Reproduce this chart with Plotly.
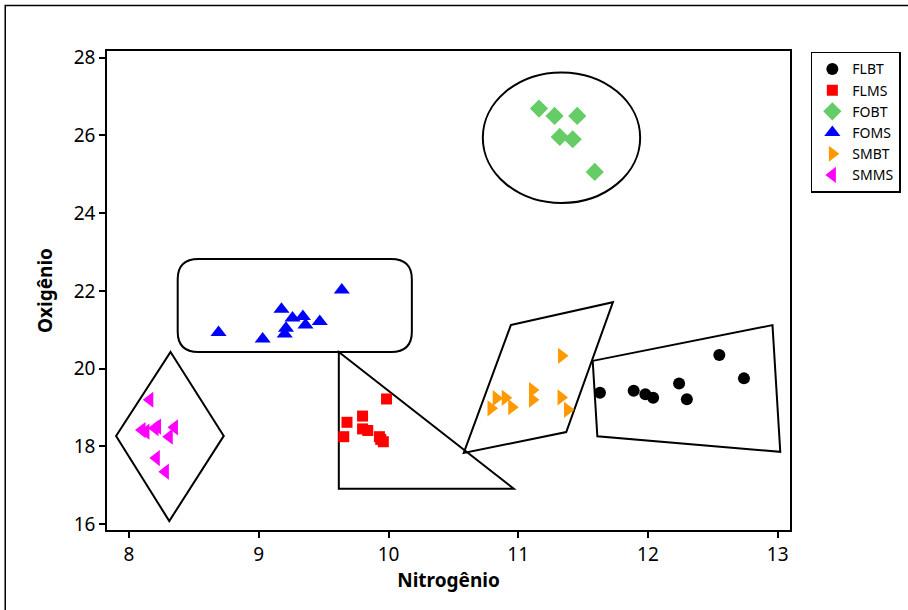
import plotly.graph_objects as go

# ---- data ----
flbt_x = [11.63, 11.89, 11.98, 12.04, 12.24, 12.30, 12.55, 12.74]
flbt_y = [19.38, 19.43, 19.34, 19.25, 19.62, 19.21, 20.35, 19.75]

flms_x = [9.985, 9.80, 9.68, 9.655, 9.80, 9.84, 9.93, 9.96, 9.94]
flms_y = [19.22, 18.78, 18.62, 18.25, 18.45, 18.41, 18.25, 18.12, 18.18]

fobt_x = [11.16, 11.28, 11.455, 11.32, 11.42, 11.59]
fobt_y = [26.69, 26.50, 26.50, 25.96, 25.90, 25.06]

foms_x = [8.69, 9.03, 9.175, 9.64, 9.26, 9.34, 9.36, 9.47, 9.21, 9.20]
foms_y = [20.93, 20.76, 21.53, 22.02, 21.30, 21.34, 21.12, 21.21, 21.04, 20.89]

smbt_x = [11.334, 11.11, 11.11, 11.33, 10.83, 10.90, 10.79, 10.95, 11.38]
smbt_y = [20.33, 19.45, 19.20, 19.26, 19.24, 19.25, 18.98, 19.01, 18.94]

smms_x = [8.16, 8.10, 8.13, 8.20, 8.22, 8.35, 8.31, 8.21, 8.28]
smms_y = [19.20, 18.42, 18.38, 18.47, 18.51, 18.49, 18.25, 17.70, 17.35]

x_ticks = [8, 9, 10, 11, 12, 13]
y_ticks = [16, 18, 20, 22, 24, 26, 28]

# group outlines (data units)
smms_diamond = [(8.32, 20.43), (8.73, 18.27), (8.31, 16.08), (7.90, 18.27)]
flms_triangle = [(9.617, 20.43), (10.966, 16.91), (9.617, 16.91)]
smbt_parallelogram = [(10.943, 21.12), (11.73, 21.71), (11.37, 18.37), (10.58, 17.83)]
flbt_quad = [(11.574, 20.20), (12.96, 21.12), (13.02, 17.86), (11.61, 18.26)]
fobt_ellipse = (10.727, 24.26, 11.94, 27.62)      # x0, y0, x1, y1
foms_roundrect = (8.375, 20.43, 10.18, 22.82)     # x0, y0, x1, y1
foms_corner = (0.16, 0.52)                        # rx, ry

FONT = "Noto Sans"

series = [
    ("FLBT", flbt_x, flbt_y, "circle", "#000000", 12),
    ("FLMS", flms_x, flms_y, "square", "#FF0000", 11),
    ("FOBT", fobt_x, fobt_y, "diamond", "#66CC66", 14),
    ("FOMS", foms_x, foms_y, "triangle-up", "#0000FF", 14),
    ("SMBT", smbt_x, smbt_y, "triangle-right", "#FF9900", 14),
    ("SMMS", smms_x, smms_y, "triangle-left", "#FF00FF", 14),
]

fig = go.Figure()
for name, xs, ys, sym, col, sz in series:
    fig.add_trace(go.Scatter(x=xs, y=ys, mode="markers", name=name,
                             marker=dict(symbol=sym, color=col, size=sz,
                                         line=dict(width=0))))


def poly_path(pts):
    s = "M {} {}".format(*pts[0])
    for p in pts[1:]:
        s += " L {} {}".format(*p)
    return s + " Z"


line = dict(color="black", width=2)
for pts in (smms_diamond, flms_triangle, smbt_parallelogram, flbt_quad):
    fig.add_shape(type="path", path=poly_path(pts), xref="x", yref="y",
                  line=line, fillcolor="rgba(0,0,0,0)", layer="below")

ex0, ey0, ex1, ey1 = fobt_ellipse
fig.add_shape(type="circle", x0=ex0, y0=ey0, x1=ex1, y1=ey1, xref="x", yref="y",
              line=line, layer="below")

x0, y0, x1, y1 = foms_roundrect
rx, ry = foms_corner
rr = (f"M {x0+rx} {y0} L {x1-rx} {y0} Q {x1} {y0} {x1} {y0+ry} "
      f"L {x1} {y1-ry} Q {x1} {y1} {x1-rx} {y1} L {x0+rx} {y1} "
      f"Q {x0} {y1} {x0} {y1-ry} L {x0} {y0+ry} Q {x0} {y0} {x0+rx} {y0} Z")
fig.add_shape(type="path", path=rr, xref="x", yref="y", line=line, layer="below")

# outer frame
fig.add_shape(type="rect", xref="paper", yref="paper", x0=-0.149, y0=-0.3,
              x1=1.3, y1=1.095, line=dict(color="black", width=1.5))

axis_common = dict(showgrid=False, zeroline=False, showline=True, linecolor="black",
                   linewidth=1.5, mirror=True, ticks="outside", ticklen=6,
                   tickwidth=1.5, tickcolor="black", automargin=False,
                   tickfont=dict(family=FONT, size=19, color="black"))

fig.update_layout(
    width=908, height=610,
    margin=dict(l=107, r=118, t=51, b=80),
    paper_bgcolor="white", plot_bgcolor="white",
    xaxis=dict(range=[7.83, 13.095], tickvals=x_ticks,
               title=dict(text="<b>Nitrogênio</b>", standoff=8,
                          font=dict(family=FONT, size=19, color="black")),
               **axis_common),
    yaxis=dict(range=[15.85, 28.17], tickvals=y_ticks,
               title=dict(text="<b>Oxigênio</b>", standoff=16,
                          font=dict(family=FONT, size=19, color="black")),
               **axis_common),
    legend=dict(xref="container", yref="container", x=0.893, y=0.915,
                xanchor="left", yanchor="top",
                bordercolor="black", borderwidth=1.5, bgcolor="white",
                font=dict(family=FONT, size=14, color="black"),
                itemwidth=30, tracegroupgap=0),
    showlegend=True,
)

fig.write_html("out.html", config={"displayModeBar": False},
               post_script="document.body.style.margin='0';")
